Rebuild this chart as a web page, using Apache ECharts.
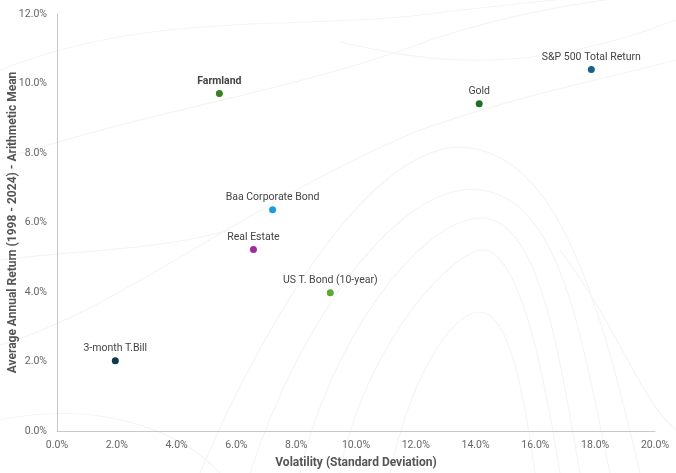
<!DOCTYPE html>
<html><head><meta charset="utf-8">
<script src="https://cdn.jsdelivr.net/npm/echarts@6/dist/echarts.min.js"></script>
<style>html,body{margin:0;padding:0;background:#fff}#c{width:676px;height:473px}</style>
</head><body><div id="c"></div>
<script>
const names = ['Farmland','Baa Corporate Bond','Real Estate','US T. Bond (10-year)','3-month T.Bill','Gold','S&P 500 Total Return'];
const volatility = [5.43, 7.21, 6.57, 9.14, 1.95, 14.12, 17.87];
const returns = [9.71, 6.37, 5.22, 3.98, 2.02, 9.42, 10.40];
const colors = ['#3a7f22','#1a9de0','#a1299f','#5aac2c','#0f3a4c','#1e6e2a','#1a6188'];
const xTicks = [0,2,4,6,8,10,12,14,16,18,20];
const yTicks = [0,2,4,6,8,10,12];

const chart = echarts.init(document.getElementById('c'), null, {renderer:'canvas'});
// decorative background contour curves (cubic bezier segments)
const bz = (x1,y1,c1x,c1y,c2x,c2y,x2,y2)=>({type:'bezierCurve', silent:true, z:-10,
  shape:{x1:x1,y1:y1,cpx1:c1x,cpy1:c1y,cpx2:c2x,cpy2:c2y,x2:x2,y2:y2},
  style:{fill:null, stroke:'#f4f4f4', lineWidth:1.1}});
const option = {
  backgroundColor:'#fff',
  textStyle:{fontFamily:'Roboto'},
  graphic:[
    bz(0,70,150,10,300,30,420,15), bz(420,15,500,5,560,0,600,-5),
    bz(0,160,150,110,300,90,430,40), bz(430,40,520,10,600,0,676,-10),
    bz(340,42,420,60,520,80,676,20),
    bz(0,345,120,310,250,200,420,130), bz(420,130,520,95,600,80,676,60),
    bz(200,473,260,330,380,120,480,150), bz(480,150,560,170,600,300,640,473),
    bz(250,473,300,320,400,180,480,190), bz(480,190,560,200,580,330,610,473),
    bz(300,473,330,340,420,220,480,218), bz(480,218,540,216,560,360,580,473),
    bz(340,473,360,360,440,260,480,250), bz(480,250,520,245,545,380,560,473),
    bz(390,473,410,380,450,312,480,312), bz(480,312,510,312,525,400,535,473),
    bz(560,250,620,330,640,400,676,430),
    bz(0,420,100,400,180,430,220,473),
    bz(0,260,80,250,160,250,230,230)
  ],
  grid:{left:57, right:21, top:14, bottom:42, containLabel:false, outerBoundsMode:'none'},
  xAxis:{
    type:'value', min:0, max:20, interval:2,
    name:'Volatility (Standard Deviation)', nameLocation:'middle', nameGap:26, nameMoveOverlap:false,
    nameTextStyle:{fontSize:12, fontWeight:'bold', color:'#555', fontFamily:'Roboto'},
    axisLine:{show:true, lineStyle:{color:'#c8c8c8', width:1}},
    axisTick:{show:false}, splitLine:{show:false},
    axisLabel:{formatter:v=>v.toFixed(1)+'%', color:'#666', fontSize:10.5, margin:9, fontFamily:'Roboto'}
  },
  yAxis:{
    type:'value', min:0, max:12, interval:2,
    name:'Average Annual Return (1998 - 2024) - Arithmetic Mean', nameLocation:'middle', nameGap:38, nameMoveOverlap:false,
    nameTextStyle:{fontSize:12, fontWeight:'bold', color:'#555', fontFamily:'Roboto'},
    axisLine:{show:true, lineStyle:{color:'#c8c8c8', width:1}},
    axisTick:{show:false}, splitLine:{show:false},
    axisLabel:{formatter:v=>v.toFixed(1)+'%', color:'#666', fontSize:10.5, margin:10, fontFamily:'Roboto'}
  },
  series:[{
    type:'scatter', symbolSize:7,
    data: names.map((n,i)=>({
      name:n, value:[volatility[i], returns[i]],
      itemStyle:{color:colors[i], opacity:1},
      label:{fontWeight: n==='Farmland' ? 'bold':'normal'}
    })),
    label:{show:true, position:'top', distance:3, formatter:p=>p.name, color:'#444', fontSize:10.5, fontFamily:'Roboto'}
  }]
};
chart.setOption(option);
</script></body></html>
